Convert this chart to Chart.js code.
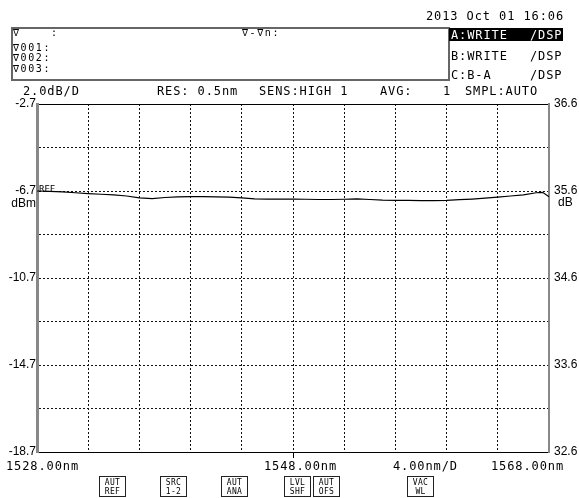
<!DOCTYPE html>
<html>
<head>
<meta charset="utf-8">
<script src="https://cdn.jsdelivr.net/npm/chart.js@4.4.1/dist/chart.umd.min.js"></script>
<style>
  html, body { margin: 0; padding: 0; background: #fff; }
  #wrap { position: relative; width: 579px; height: 498px; overflow: hidden; }
  #wrap canvas { position: absolute; left: 0; top: 0; }
  .t { position: absolute; font-family: "DejaVu Sans Mono", monospace; font-size: 12px;
       line-height: 12px; letter-spacing: 0.9px; color: #000; white-space: pre; }
  .s { position: absolute; font-family: "DejaVu Sans Mono", monospace; font-size: 10px;
       line-height: 10px; letter-spacing: 1.6px; color: #000; white-space: pre; }
  .box { position: absolute; border: 2px solid #666; box-sizing: border-box; }
  .hl { position: absolute; background: #000; }
  .btn { position: absolute; top: 476px; width: 27px; height: 21px; box-sizing: border-box;
         border: 1px solid #222; font-family: "DejaVu Sans Mono", monospace; font-size: 8px;
         line-height: 9px; text-align: center; letter-spacing: 0.3px; padding-top: 1px; }
</style>
</head>
<body>
<div id="wrap">
  <canvas id="osa"></canvas>

  <!-- header -->
  <div class="t" style="left:426px;top:10px">2013 Oct 01 16:06</div>
  <div class="box" style="left:11px;top:27px;width:439px;height:54px"></div>
  <div class="s" style="left:13px;top:28px">∇    :</div>
  <div class="s" style="left:13px;top:43px">∇001:</div>
  <div class="s" style="left:13px;top:53px">∇002:</div>
  <div class="s" style="left:13px;top:64px">∇003:</div>
  <div class="s" style="left:242px;top:28px">∇-∇n:</div>

  <div class="hl" style="left:449px;top:28px;width:114px;height:13px"></div>
  <div class="t" style="left:451px;top:29px;color:#fff">A:WRITE</div>
  <div class="t" style="left:530px;top:29px;color:#fff">/DSP</div>
  <div class="t" style="left:451px;top:50px">B:WRITE</div>
  <div class="t" style="left:530px;top:50px">/DSP</div>
  <div class="t" style="left:451px;top:69px">C:B-A</div>
  <div class="t" style="left:530px;top:69px">/DSP</div>

  <div class="t" style="left:23px;top:85px">2.0dB/D</div>
  <div class="t" style="left:157px;top:85px">RES: 0.5nm</div>
  <div class="t" style="left:259px;top:85px">SENS:HIGH 1</div>
  <div class="t" style="left:380px;top:85px">AVG:</div>
  <div class="t" style="left:443px;top:85px">1</div>
  <div class="t" style="left:465px;top:85px">SMPL:AUTO</div>

  <!-- footer -->
  <div class="t" style="left:6px;top:460px">1528.00nm</div>
  <div class="t" style="left:264px;top:460px">1548.00nm</div>
  <div class="t" style="left:393px;top:460px">4.00nm/D</div>
  <div class="t" style="left:491px;top:460px">1568.00nm</div>

  <div class="btn" style="left:99px">AUT<br>REF</div>
  <div class="btn" style="left:160px">SRC<br>1-2</div>
  <div class="btn" style="left:221px">AUT<br>ANA</div>
  <div class="btn" style="left:284px">LVL<br>SHF</div>
  <div class="btn" style="left:313px">AUT<br>OFS</div>
  <div class="btn" style="left:407px">VAC<br>WL</div>
</div>

<script>
// trace A
const wavelengths = [1528, 1529, 1530, 1531, 1532, 1533, 1534, 1535, 1536, 1537,
                     1538, 1539, 1540, 1541, 1542, 1543, 1544, 1545, 1546, 1547,
                     1548, 1549, 1550, 1551, 1552, 1553, 1554, 1555, 1556, 1557,
                     1558, 1559, 1560, 1561, 1562, 1563, 1564, 1565, 1566, 1567,
                     1567.5, 1568];
const levels = [-6.70, -6.72, -6.74, -6.78, -6.82, -6.85, -6.88, -6.93, -7.02, -7.05,
                -7.00, -6.97, -6.96, -6.96, -6.97, -6.98, -7.02, -7.06, -7.07, -7.07,
                -7.07, -7.08, -7.09, -7.09, -7.08, -7.06, -7.09, -7.12, -7.13, -7.13,
                -7.14, -7.14, -7.13, -7.10, -7.07, -7.03, -6.98, -6.93, -6.88, -6.78,
                -6.76, -6.96];

// axes
const xMin = 1528, xMax = 1568, xStep = 4, xCenter = 1548;
const levelTop = -2.7, levelBottom = -18.7, levelStep = 2;
const levelLabels = [-2.7, -6.7, -10.7, -14.7, -18.7];
const refLevel = -6.7;
const dbTop = 36.6, dbBottom = 32.6, dbStep = 0.5;
const dbLabels = [36.6, 35.6, 34.6, 33.6, 32.6];
const dbUnitAt = 35.6;

Chart.defaults.font.family = "Liberation Sans";
Chart.defaults.font.size = 12;
Chart.defaults.color = "#000";

const isLabel = (list, v) => list.some(t => Math.abs(t - v) < 1e-6);

const screenText = {
  id: "screenText",
  afterDraw(chart) {
    const { ctx, chartArea } = chart;
    const y = chart.scales.y, y2 = chart.scales.y2, x = chart.scales.x;
    ctx.save();
    ctx.fillStyle = "#000";
    ctx.textBaseline = "middle";

    const yRef = y.getPixelForValue(refLevel);
    ctx.font = "9px 'DejaVu Sans Mono'";
    ctx.textAlign = "left";
    ctx.fillText("REF", chartArea.left + 2, yRef - 1);

    ctx.font = "12px 'Liberation Sans'";
    ctx.textAlign = "right";
    ctx.fillText("dBm", chartArea.left - 1, yRef + 13);
    ctx.textAlign = "left";
    ctx.fillText("dB", chartArea.right + 9, y2.getPixelForValue(dbUnitAt) + 12);

    // centre marker below the frame
    const xc = x.getPixelForValue(xCenter);
    ctx.strokeStyle = "#000";
    ctx.lineWidth = 1;
    ctx.beginPath();
    ctx.moveTo(Math.round(xc) + 0.5, chartArea.bottom);
    ctx.lineTo(Math.round(xc) + 0.5, chartArea.bottom + 6);
    ctx.stroke();
    ctx.restore();
  }
};

new Chart(document.getElementById("osa"), {
  type: "line",
  data: {
    datasets: [{
      data: wavelengths.map((w, i) => ({ x: w, y: levels[i] })),
      borderColor: "#000",
      borderWidth: 1.2,
      pointRadius: 0,
      tension: 0,
      yAxisID: "y"
    }]
  },
  options: {
    responsive: true,
    maintainAspectRatio: false,
    animation: false,
    layout: { padding: { top: 104, bottom: 46, left: 0, right: 0 } },
    plugins: { legend: { display: false }, tooltip: { enabled: false } },
    scales: {
      x: {
        type: "linear",
        min: xMin, max: xMax,
        ticks: { stepSize: xStep, display: false },
        grid: { color: "#111", lineWidth: 1, drawTicks: false },
        border: { color: "#000", width: 1, dash: [2, 2] },
        afterFit: s => { s.height = 0; }
      },
      xTop: {
        type: "linear",
        position: "top",
        min: xMin, max: xMax,
        ticks: { display: false },
        grid: { display: false, drawTicks: false },
        border: { color: "#000", width: 1 },
        afterFit: s => { s.height = 0; }
      },
      y: {
        min: levelBottom, max: levelTop,
        ticks: {
          stepSize: levelStep,
          autoSkip: false,
          padding: 1,
          callback: v => isLabel(levelLabels, v) ? v.toFixed(1) : ""
        },
        grid: { color: "#111", lineWidth: 1, drawTicks: false },
        border: { color: "#888", width: 3, dash: [2, 2] },
        afterFit: s => { s.width = 37; }
      },
      y2: {
        position: "right",
        min: dbBottom, max: dbTop,
        ticks: {
          stepSize: dbStep,
          autoSkip: false,
          padding: 5,
          callback: v => isLabel(dbLabels, v) ? v.toFixed(1) : ""
        },
        grid: { display: false, drawTicks: false },
        border: { color: "#888", width: 2 },
        afterFit: s => { s.width = 30; }
      }
    }
  },
  plugins: [screenText]
});
</script>
</body>
</html>
